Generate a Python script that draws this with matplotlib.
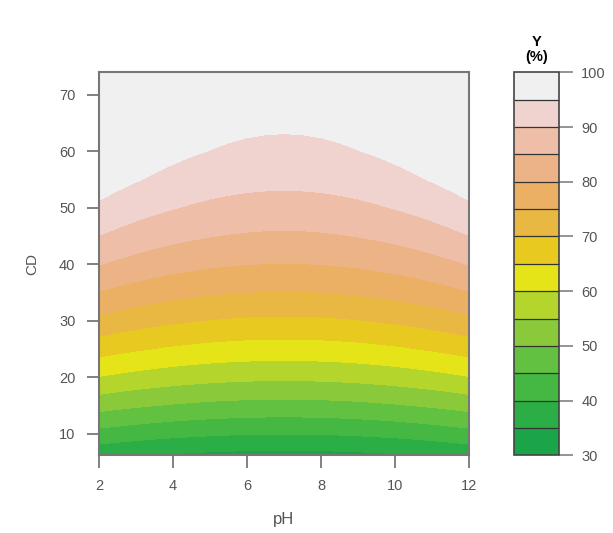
import matplotlib
matplotlib.use("Agg")
import matplotlib.pyplot as plt
import numpy as np
from matplotlib.colors import ListedColormap, BoundaryNorm
from matplotlib.cm import ScalarMappable

# grid
ph_values = [2, 2.5, 3, 3.5, 4, 4.5, 5, 5.5, 6, 6.5, 7,
             7.5, 8, 8.5, 9, 9.5, 10, 10.5, 11, 11.5, 12]
cd_values = [6, 10, 15, 20, 25, 30, 35, 40, 45, 50, 55, 60, 65, 70, 74]

# Y (%) along the pH = 7 column, and the extra Y seen at the pH = 2 / 12 edges
y_at_ph7 = [33.0, 40.0, 48.2, 55.8, 62.7, 69.0, 74.7, 79.8, 84.2, 88.0,
            91.2, 93.8, 95.7, 97.0, 97.6]
gain_at_edge = [2.9, 3.2, 3.55, 3.9, 4.25, 4.6, 4.95, 5.3, 5.65, 6.0,
                6.35, 6.7, 7.05, 7.4, 7.7]
# share of that edge gain at each pH column
ph_share = [1.0, 0.81, 0.64, 0.49, 0.36, 0.25, 0.16, 0.09, 0.04, 0.01, 0.0,
            0.01, 0.04, 0.09, 0.16, 0.25, 0.36, 0.49, 0.64, 0.81, 1.0]

levels = [30, 35, 40, 45, 50, 55, 60, 65, 70, 75, 80, 85, 90, 95, 100]
cbar_ticks = [30, 40, 50, 60, 70, 80, 90, 100]
band_colors = ["#1BA548", "#2AAE45", "#44B843", "#62C140", "#8AC93A",
               "#B4D52B", "#E4E419", "#E7C91F", "#E9B843", "#EBB064",
               "#ECB387", "#EEBEA9", "#F0D3CE", "#F0F0F0"]

# build the table Y[cd, ph]
Y = np.array(y_at_ph7)[:, None] + np.array(gain_at_edge)[:, None] * np.array(ph_share)[None, :]

cmap = ListedColormap(band_colors)
cmap.set_over(band_colors[-1])
norm = BoundaryNorm(levels, cmap.N)

tick_col = "#555555"
frame_col = "#777777"
plt.rcParams['font.family'] = ['Liberation Sans', 'DejaVu Sans']

fig = plt.figure(figsize=(6.13, 5.33), dpi=100)
ax = fig.add_axes([0.1615, 0.146, 0.6036, 0.718])

cs = ax.contourf(ph_values, cd_values, Y, levels=levels, cmap=cmap, norm=norm,
                 extend='max')
# hide the hairline seams between bands
cs.set_edgecolor('face')
cs.set_linewidth(0.6)

ax.set_xlim(2, 12)
ax.set_ylim(6.2, 73.9)
ax.set_xticks([2, 4, 6, 8, 10, 12])
ax.set_yticks([10, 20, 30, 40, 50, 60, 70])
ax.tick_params(direction='out', length=9, width=1.3, color=frame_col,
               labelcolor=tick_col, labelsize=10.5, pad=8)
for s in ax.spines.values():
    s.set_color(frame_col)
    s.set_linewidth(1.5)
ax.set_xlabel('pH', color=tick_col, fontsize=12, labelpad=14)
ax.set_ylabel('CD', color=tick_col, fontsize=11, labelpad=14)

# colour key
cax = fig.add_axes([0.8385, 0.146, 0.0734, 0.718])
cb = fig.colorbar(ScalarMappable(norm=norm, cmap=cmap), cax=cax,
                  ticks=cbar_ticks, drawedges=True)
cb.minorticks_off()
cb.outline.set_edgecolor("#444444")
cb.outline.set_linewidth(1.2)
cb.dividers.set_color("#333333")
cb.dividers.set_linewidth(0.9)
cax.tick_params(direction='out', length=10, width=1.1, color=frame_col,
                labelcolor=tick_col, labelsize=10.5, pad=6)
cax.set_title('Y\n(%)', fontsize=10.5, fontweight='bold', pad=8, linespacing=1.1)

fig.savefig('out.png', dpi=100)
